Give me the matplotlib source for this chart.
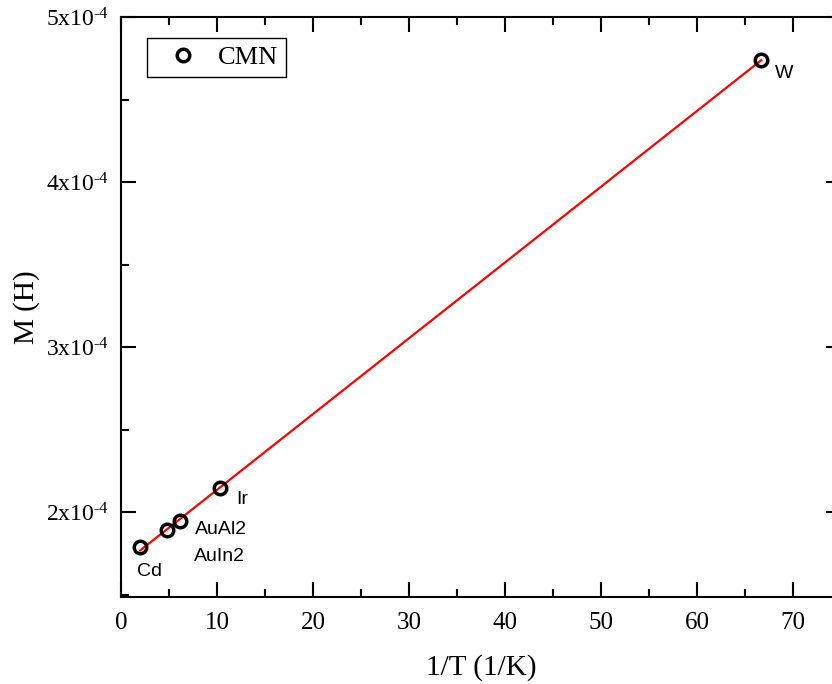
import numpy as np
import matplotlib
matplotlib.use('Agg')
import matplotlib.pyplot as plt
from matplotlib.ticker import MultipleLocator, FuncFormatter

plt.rcParams['font.family'] = 'Liberation Serif'
plt.rcParams['mathtext.fontset'] = 'custom'
plt.rcParams['mathtext.rm'] = 'Liberation Serif'

# data
names = ['Cd', 'AuIn2', 'AuAl2', 'Ir', 'W']
inv_T = [2.0, 4.8, 6.15, 10.3, 66.7]           # 1/T (1/K)
M = [1.788e-4, 1.89e-4, 1.945e-4, 2.145e-4, 4.74e-4]   # M (H)
# label offsets in points
offs = [(-2, -24), (19, -25), (11, -12), (12, -14), (10, -16)]

fig = plt.figure(figsize=(8.32, 6.84), dpi=100)
ax = fig.add_axes([121/832, 1 - 597/684, 720/832, 580/684])

k, b = np.polyfit(inv_T, M, 1)
xf = np.array([min(inv_T), max(inv_T)])
ax.plot(xf, k*xf + b, color='red', lw=1.6, zorder=2)
ax.plot(inv_T, M, 'o', ms=9, mfc='none', mec='black', mew=2.5,
        label='CMN', zorder=3)

for n, x, y, o in zip(names, inv_T, M, offs):
    ax.annotate(n, (x, y), xytext=o, textcoords='offset points',
                family='Liberation Sans', fontsize=14, ha='left', va='bottom')

ax.set_xlim(0, 75)
ax.set_ylim(1.485e-4, 5e-4)
ax.xaxis.set_major_locator(MultipleLocator(10))
ax.xaxis.set_minor_locator(MultipleLocator(5))
ax.yaxis.set_major_locator(MultipleLocator(1e-4))
ax.yaxis.set_minor_locator(MultipleLocator(0.5e-4))

def fmt(v, pos):
    return r'$\mathregular{%dx10^{\text{-}4}}$' % round(v * 1e4)

ax.yaxis.set_major_formatter(FuncFormatter(fmt))
ax.tick_params(which='both', direction='in', top=True, right=True, width=1.5)
ax.tick_params(which='major', length=11)
ax.tick_params(which='minor', length=6)
ax.tick_params(axis='x', labelsize=18, pad=11)
ax.tick_params(axis='y', labelsize=17, pad=9)
for s in ax.spines.values():
    s.set_linewidth(1.5)

ax.set_xlabel('1/T (1/K)', fontsize=21, labelpad=14)
ax.set_ylabel('M (H)', fontsize=21, labelpad=4)

leg = ax.legend(loc='upper left', fontsize=19, fancybox=False,
                edgecolor='black', framealpha=1, handletextpad=0.3,
                handlelength=2.1, borderpad=0.3, borderaxespad=0,
                bbox_to_anchor=(26/720, 1 - 21/580))
leg.get_frame().set_linewidth(1.0)

fig.savefig('out.png', dpi=100)
